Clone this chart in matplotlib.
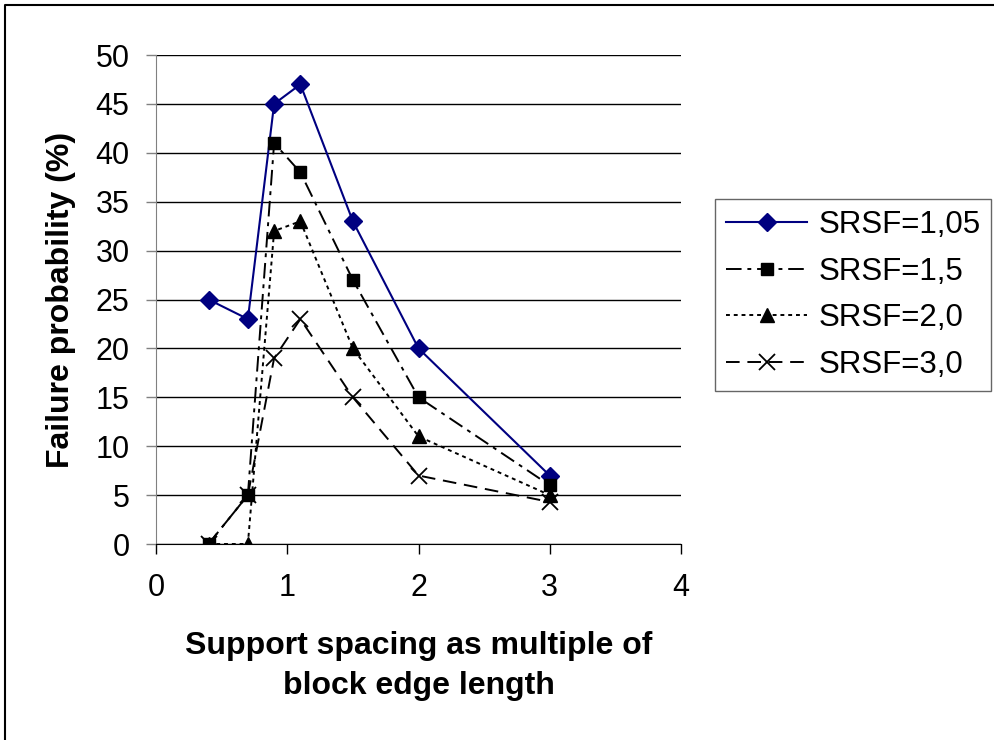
import matplotlib.pyplot as plt
from matplotlib.lines import Line2D

plt.rcParams['font.family'] = ['Liberation Sans', 'DejaVu Sans']

# данные
spacing = [0.4, 0.7, 0.9, 1.1, 1.5, 2, 3]
srsf_105 = [25, 23, 45, 47, 33, 20, 7]
srsf_15 = [0, 5, 41, 38, 27, 15, 6]
srsf_20 = [0, 0, 32, 33, 20, 11, 5]
srsf_30 = [0, 5, 19, 23, 15, 7, 4.3]
labels = ['SRSF=1,05', 'SRSF=1,5', 'SRSF=2,0', 'SRSF=3,0']

fig = plt.figure(figsize=(9.94, 7.4), dpi=100)
ax = fig.add_axes([156 / 994, 1 - 544 / 740, 525 / 994, 489 / 740])

# рамка рисунка (видны только левая и верхняя стороны)
fig.lines.append(Line2D([5 / 994, 5 / 994, 1], [0, 1 - 5 / 740, 1 - 5 / 740],
                        transform=fig.transFigure, color='black', linewidth=1.5))

ax.plot(spacing, srsf_105, color='#000080', linewidth=1.5, marker='D', markersize=9, label=labels[0])
ax.plot(spacing, srsf_15, color='black', linewidth=1.4, dashes=(8, 3, 2, 3), marker='s', markersize=9, label=labels[1])
ax.plot(spacing, srsf_20, color='black', linewidth=1.4, dashes=(2, 2), marker='^', markersize=10, label=labels[2])
ax.plot(spacing, srsf_30, color='black', linewidth=1.4, dashes=(7, 4), marker='x', markersize=12,
        markeredgewidth=1.3, label=labels[3])

ax.set_xlim(0, 4)
ax.set_ylim(0, 50)
ax.set_xticks([0, 1, 2, 3, 4])
ax.set_yticks(range(0, 51, 5))
ax.yaxis.grid(True, color='black', linewidth=1)
ax.set_axisbelow(True)
for s in ['top', 'right']:
    ax.spines[s].set_visible(False)
ax.spines['left'].set_color('#808080')
ax.spines['bottom'].set_color('black')
ax.tick_params(axis='both', labelsize=22, direction='out', length=7, width=1)
ax.tick_params(axis='y', colors='#808080', labelcolor='black', pad=12)
ax.tick_params(axis='x', pad=14)

ax.set_ylabel('Failure probability (%)', fontsize=23, fontweight='bold', labelpad=14)
ax.set_xlabel('Support spacing as multiple of\nblock edge length', fontsize=23, fontweight='bold',
              labelpad=20, linespacing=1.45)

leg = ax.legend(loc='upper left', bbox_to_anchor=(715 / 994, 1 - 199 / 740), bbox_transform=fig.transFigure,
                borderaxespad=0, fontsize=22.5, frameon=True, fancybox=False, edgecolor='#404040',
                handlelength=2.6, labelspacing=0.53, borderpad=0.35, handletextpad=0.35)
leg.get_frame().set_linewidth(1)

plt.savefig('out.png', dpi=100)
